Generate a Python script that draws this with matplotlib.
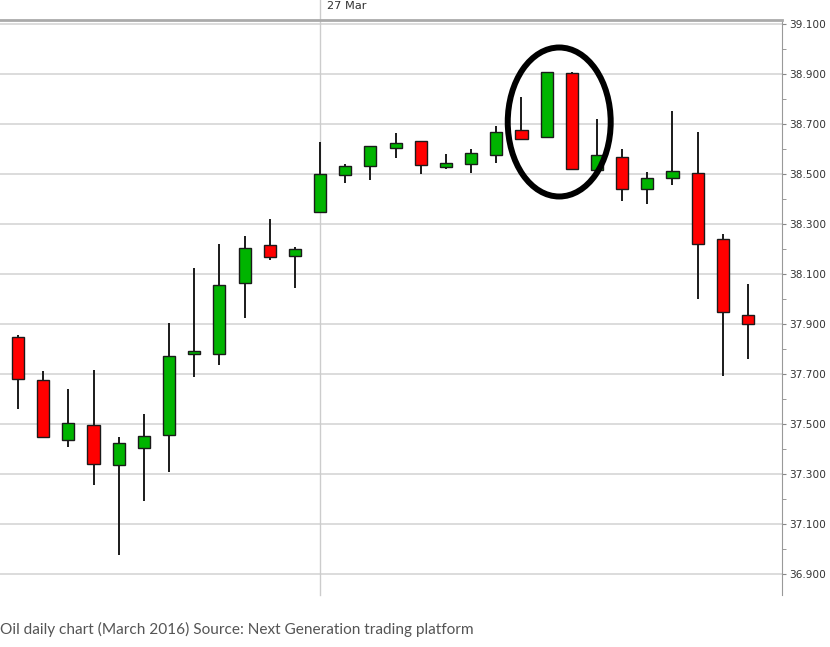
import numpy as np
import matplotlib
matplotlib.use('Agg')
import matplotlib.pyplot as plt
from matplotlib.patches import Ellipse
import matplotlib.transforms as mtransforms
from matplotlib.ticker import MultipleLocator, FormatStrFormatter

# daily OHLC
opens  = [37.848, 37.676, 37.440, 37.496, 37.340, 37.408, 37.460, 37.784, 37.784, 38.068,
          38.216, 38.176, 38.352, 38.500, 38.536, 38.608, 38.632, 38.532, 38.544, 38.580,
          38.676, 38.652, 38.904, 38.520, 38.568, 38.444, 38.488, 38.504, 38.240, 37.936]
highs  = [37.856, 37.712, 37.640, 37.716, 37.448, 37.540, 37.904, 38.124, 38.220, 38.252,
          38.320, 38.208, 38.628, 38.540, 38.612, 38.664, 38.632, 38.580, 38.600, 38.692,
          38.808, 38.908, 38.908, 38.720, 38.600, 38.508, 38.752, 38.668, 38.260, 38.060]
lows   = [37.560, 37.450, 37.408, 37.256, 36.976, 37.192, 37.308, 37.688, 37.736, 37.924,
          38.156, 38.044, 38.352, 38.464, 38.476, 38.564, 38.500, 38.520, 38.504, 38.544,
          38.636, 38.652, 38.516, 38.520, 38.392, 38.380, 38.456, 38.000, 37.692, 37.760]
closes = [37.684, 37.452, 37.504, 37.344, 37.424, 37.452, 37.772, 37.792, 38.056, 38.204,
          38.172, 38.200, 38.500, 38.532, 38.612, 38.624, 38.540, 38.544, 38.584, 38.668,
          38.644, 38.908, 38.524, 38.576, 38.444, 38.484, 38.512, 38.224, 37.952, 37.904]
week_label = '27 Mar'
week_idx = 12
caption = 'Oil daily chart (March 2016) Source: Next Generation trading platform'

opens = np.array(opens); closes = np.array(closes)
highs = np.array(highs); lows = np.array(lows)
x = np.arange(len(opens))

fig = plt.figure(figsize=(8.3, 6.47), dpi=100)
ax = fig.add_axes([0.0, 52/647, 782/830, 575/647])

up = closes >= opens
cols = np.where(up, '#00b400', '#ff0000')

ax.vlines(x, lows, highs, color='#1a1a1a', lw=1.4, zorder=3)
ax.bar(x, np.abs(closes - opens) + 0.004, bottom=np.minimum(opens, closes) - 0.002,
       width=0.48, color=cols, edgecolor='#1a1a1a', lw=1.0, zorder=4)

# the circled pattern
ax.add_patch(Ellipse((21.5, 38.708), 4.09, 0.596, fill=False, ec='black', lw=4.3, zorder=5))

ax.set_xlim(-0.715, 30.35)
ax.set_ylim(36.816, 39.116)

ax.yaxis.tick_right()
ax.yaxis.set_minor_locator(MultipleLocator(0.1))
ax.yaxis.set_major_formatter(FormatStrFormatter('%.3f'))
ax.set_yticks(np.arange(36.9, 39.11, 0.2))
ax.tick_params(axis='y', which='both', length=3, color='#888888', labelsize=7.6,
               labelcolor='#333333', pad=2)
ax.set_xticks([])
ax.grid(axis='y', color='#d9d9d9', lw=1.3)
ax.set_axisbelow(True)

for s in ['left', 'bottom']:
    ax.spines[s].set_visible(False)
ax.spines['right'].set_color('#999999')
ax.spines['top'].set_color('#aaaaaa')
ax.spines['top'].set_linewidth(2)

ax.axvline(week_idx, ymin=0, ymax=1 + 20/575, color='#cccccc', lw=1, clip_on=False, zorder=1)
trans = mtransforms.blended_transform_factory(ax.transData, ax.transAxes)
ax.text(week_idx + 0.28, 1 + 11/575, week_label, transform=trans, fontsize=8.2,
        color='#333333', va='baseline', ha='left')

fig.text(0.0, 1 - 629/647, caption, fontsize=11.1, family='Lato', color='#555555',
         va='center', ha='left')

fig.savefig('out.png', dpi=100)
